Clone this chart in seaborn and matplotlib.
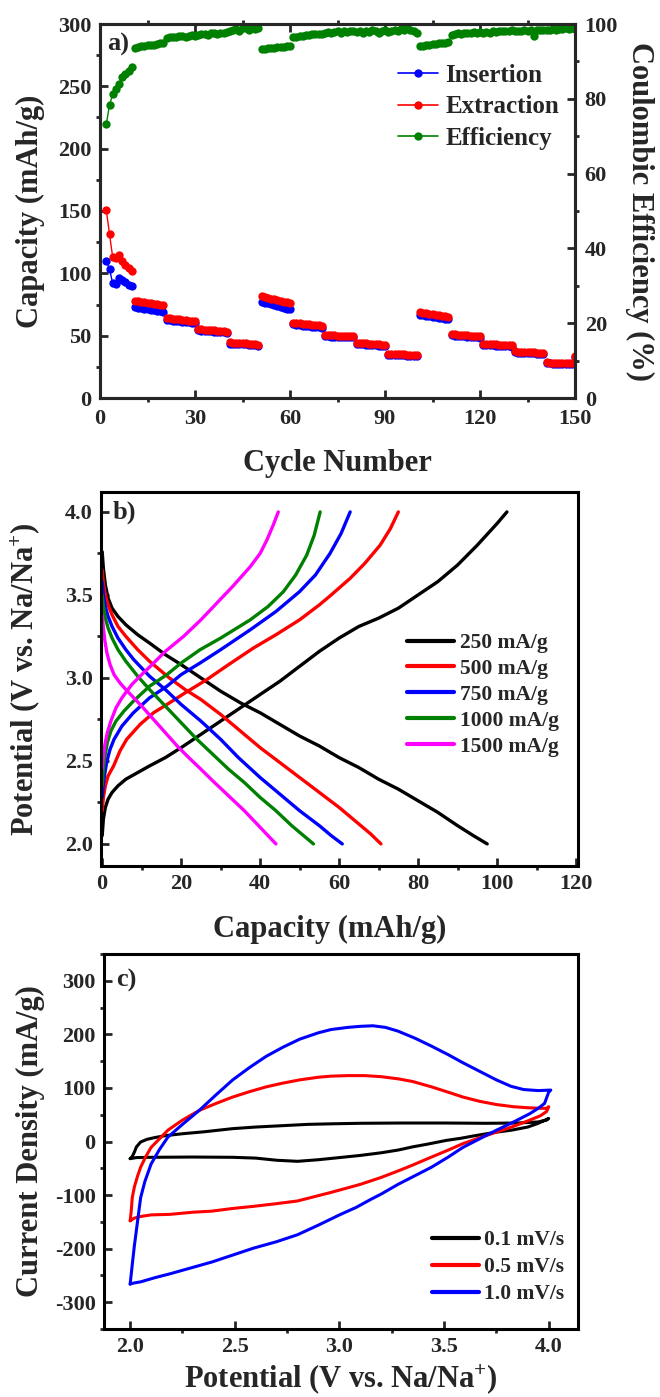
import numpy as np
import pandas as pd
import matplotlib
matplotlib.use("Agg")
import matplotlib.pyplot as plt
from matplotlib.lines import Line2D
from matplotlib.ticker import MultipleLocator, FormatStrFormatter
import seaborn as sns

# ---------------- (a) rate capability / cycling ----------------
cycles = np.arange(2, 151)
# first cycle of each current-density step
step_starts = [2, 11, 21, 31, 41, 51, 61, 71, 81, 91, 101, 111, 121, 131, 141, 150]

insertion = [
    110.0, 103.5, 92.0, 91.5, 96.5, 95.0, 93.0, 91.0, 89.5,
    72.8, 72.4, 72.0, 71.7, 71.3, 70.9, 70.5, 70.1, 69.7, 69.3,
    62.6, 62.3, 62.0, 61.8, 61.5, 61.2, 60.9, 60.6, 60.3, 60.0,
    54.2, 54.0, 53.8, 53.6, 53.4, 53.2, 53.0, 52.8, 52.6, 52.3,
    43.7, 43.6, 43.5, 43.3, 43.2, 43.0, 42.9, 42.7, 42.5, 42.1,
    77.3, 76.6, 75.9, 75.2, 74.5, 73.8, 73.1, 72.4, 71.7, 71.0,
    59.0, 58.7, 58.4, 58.1, 57.9, 57.6, 57.3, 57.0, 56.7, 56.4,
    49.6, 49.5, 49.3, 49.2, 49.1, 48.9, 48.8, 48.7, 48.6, 48.8,
    43.5, 43.3, 43.1, 42.9, 42.7, 42.5, 42.3, 42.1, 41.9, 41.7,
    34.6, 34.5, 34.4, 34.3, 34.2, 34.1, 33.9, 33.8, 33.7, 33.5,
    66.8, 66.4, 66.0, 65.6, 65.2, 64.8, 64.4, 64.0, 63.6, 63.2,
    50.2, 50.0, 49.8, 49.6, 49.4, 49.2, 49.0, 48.8, 48.6, 48.4,
    42.6, 42.5, 42.3, 42.2, 42.1, 41.9, 41.8, 41.6, 41.5, 41.3,
    36.5, 36.3, 36.2, 36.1, 36.0, 35.8, 35.7, 35.5, 35.3, 35.1,
    27.8, 27.7, 27.6, 27.5, 27.5, 27.4, 27.3, 27.2, 27.2,
    32.5,
]
extraction = [
    150.5, 131.5, 113.0, 112.0, 114.5, 110.0, 107.0, 104.0, 101.5,
    78.0, 77.6, 77.2, 76.9, 76.5, 76.1, 75.7, 75.2, 74.8, 74.3,
    64.2, 63.8, 63.5, 63.3, 63.0, 62.7, 62.4, 62.1, 61.8, 61.5,
    55.2, 55.0, 54.8, 54.6, 54.4, 54.2, 54.0, 53.8, 53.6, 53.3,
    44.6, 44.4, 44.3, 44.1, 44.0, 43.8, 43.6, 43.5, 43.2, 42.8,
    81.5, 80.9, 80.3, 79.7, 79.1, 78.5, 77.9, 77.3, 76.7, 76.0,
    60.5, 60.2, 59.9, 59.6, 59.4, 59.1, 58.8, 58.5, 58.2, 57.9,
    50.6, 50.5, 50.3, 50.2, 50.1, 49.9, 49.8, 49.7, 49.6, 49.8,
    44.5, 44.3, 44.1, 43.9, 43.7, 43.5, 43.3, 43.1, 42.9, 42.7,
    35.4, 35.3, 35.2, 35.1, 35.0, 34.9, 34.7, 34.6, 34.5, 34.3,
    68.6, 68.2, 67.8, 67.4, 67.0, 66.6, 66.2, 65.8, 65.4, 65.0,
    51.2, 51.0, 50.8, 50.6, 50.4, 50.2, 50.0, 49.8, 49.6, 49.4,
    43.5, 43.4, 43.2, 43.1, 43.0, 42.8, 42.7, 42.5, 42.4, 42.2,
    37.3, 37.1, 37.0, 36.9, 36.8, 36.6, 36.5, 36.3, 36.1, 35.9,
    28.5, 28.4, 28.3, 28.2, 28.2, 28.1, 28.0, 27.9, 27.9,
    33.5,
]
efficiency = [
    73.3, 78.3, 81.2, 82.7, 84.0, 85.7, 86.6, 87.5, 88.6,
    93.5, 93.8, 94.0, 94.1, 94.3, 94.4, 94.5, 94.7, 94.8, 95.0,
    96.3, 96.5, 96.6, 96.4, 96.7, 96.8, 96.6, 96.9, 97.0, 96.8,
    97.0, 97.2, 97.4, 97.1, 97.5, 97.6, 97.3, 97.7, 97.5, 97.8,
    98.0, 98.3, 98.6, 98.2, 98.8, 99.0, 98.5, 99.2, 98.7, 99.0,
    93.2, 93.4, 93.5, 93.6, 93.7, 93.8, 93.8, 93.9, 94.0, 94.1,
    96.5, 96.6, 96.8, 96.9, 97.0, 97.1, 97.2, 97.3, 97.2, 97.4,
    97.6, 97.8, 97.5, 97.9, 98.0, 97.7, 98.1, 97.9, 98.2, 98.0,
    97.8, 98.0, 97.6, 98.2, 97.9, 98.3, 98.0, 97.7, 98.1, 98.3,
    97.8, 98.2, 98.5, 98.0, 98.6, 98.3, 98.8, 98.4, 98.0, 97.5,
    94.0, 94.2, 94.3, 94.5, 94.6, 94.7, 94.8, 94.9, 95.0, 95.1,
    97.0, 97.3, 97.5, 97.4, 97.6, 97.7, 97.5, 97.8, 97.7, 97.9,
    97.6, 97.8, 97.7, 98.0, 97.9, 98.1, 98.0, 98.2, 98.1, 98.3,
    98.0, 98.2, 98.1, 98.3, 98.2, 98.4, 96.8, 98.3, 98.5, 98.4,
    98.4, 98.5, 98.6, 98.5, 98.7, 98.6, 98.8, 98.7, 98.8,
    98.6,
]

# ---------------- (b) charge / discharge profiles ----------------
rate_labels = ["250 mA/g", "500 mA/g", "750 mA/g", "1000 mA/g", "1500 mA/g"]

cap_250_dis = [0, 0.3, 0.8, 1.5, 2.5, 4, 6, 9, 12, 16, 20, 25, 30, 35, 40, 45, 50, 55, 60, 65, 70, 75, 80, 85, 90, 94, 97.5]
pot_250_dis = [3.76, 3.66, 3.56, 3.48, 3.42, 3.37, 3.32, 3.26, 3.21, 3.14, 3.08, 3.0, 2.92, 2.85, 2.79, 2.72, 2.65, 2.59, 2.52, 2.46, 2.39, 2.33, 2.26, 2.19, 2.11, 2.05, 2.0]
cap_250_chg = [0, 0.3, 0.8, 1.5, 2.5, 4, 6, 9, 12, 16, 20, 25, 30, 35, 40, 45, 50, 55, 60, 65, 70, 75, 80, 85, 90, 95, 100, 102.5]
pot_250_chg = [2.05, 2.15, 2.22, 2.27, 2.31, 2.35, 2.39, 2.43, 2.47, 2.52, 2.58, 2.66, 2.74, 2.82, 2.9, 2.98, 3.07, 3.16, 3.24, 3.31, 3.36, 3.42, 3.5, 3.58, 3.68, 3.8, 3.93, 4.0]

cap_500_dis = [0, 0.3, 0.8, 1.5, 2.5, 4, 6, 9, 12, 17, 21, 25, 30, 35, 40, 45, 50, 55, 60, 65, 68, 70.6]
pot_500_dis = [3.65, 3.57, 3.5, 3.44, 3.38, 3.31, 3.25, 3.17, 3.1, 3.0, 2.93, 2.87, 2.78, 2.68, 2.58, 2.49, 2.4, 2.31, 2.22, 2.12, 2.06, 2.0]
cap_500_chg = [0, 0.3, 0.8, 1.5, 2.9, 4.5, 6.2, 9.6, 13, 16.4, 21, 26.5, 32, 38.3, 44, 50, 55, 58, 62.8, 66.5, 70.4, 73, 75]
pot_500_chg = [2.2, 2.28, 2.35, 2.41, 2.47, 2.56, 2.63, 2.72, 2.79, 2.84, 2.91, 2.99, 3.08, 3.18, 3.26, 3.35, 3.44, 3.5, 3.6, 3.69, 3.8, 3.9, 4.0]

cap_750_dis = [0, 0.3, 0.8, 1.5, 2.5, 4, 6, 8, 12, 16, 20, 25, 30, 34.5, 40, 45, 50, 55, 58, 60.8]
pot_750_dis = [3.58, 3.5, 3.43, 3.37, 3.31, 3.24, 3.17, 3.11, 3.01, 2.93, 2.84, 2.74, 2.63, 2.52, 2.4, 2.3, 2.2, 2.11, 2.05, 2.0]
cap_750_chg = [0, 0.3, 0.7, 1.2, 2, 3, 5, 7.9, 12, 16.4, 20, 24.8, 30, 37.5, 44, 50, 54, 57.7, 60.5, 62.8]
pot_750_chg = [2.28, 2.36, 2.43, 2.5, 2.57, 2.63, 2.71, 2.79, 2.88, 2.95, 3.02, 3.09, 3.17, 3.29, 3.4, 3.52, 3.62, 3.75, 3.87, 4.0]

cap_1000_dis = [0, 0.3, 0.8, 1.5, 2.5, 4, 6, 9, 12, 16, 20, 24, 28, 32, 36, 40, 44, 48, 51, 53.5]
pot_1000_dis = [3.5, 3.43, 3.36, 3.3, 3.24, 3.17, 3.1, 3.01, 2.93, 2.83, 2.73, 2.63, 2.54, 2.45, 2.37, 2.28, 2.2, 2.11, 2.05, 2.0]
cap_1000_chg = [0, 0.3, 0.7, 1.3, 2.2, 3.5, 5.5, 7.9, 12, 16.4, 20, 24.8, 30, 37.5, 42, 45.9, 49, 51.8, 53.7, 55.2]
pot_1000_chg = [2.35, 2.45, 2.53, 2.61, 2.68, 2.74, 2.8, 2.86, 2.95, 3.02, 3.09, 3.17, 3.24, 3.35, 3.43, 3.52, 3.62, 3.74, 3.86, 4.0]

cap_1500_dis = [0, 0.3, 0.7, 1.2, 2, 3, 4.5, 6, 8, 10, 13, 16, 19, 21.5, 25, 28, 32, 36, 40, 44]
pot_1500_dis = [3.38, 3.3, 3.22, 3.15, 3.08, 3.02, 2.97, 2.93, 2.88, 2.83, 2.75, 2.67, 2.59, 2.53, 2.45, 2.38, 2.29, 2.2, 2.1, 2.0]
cap_1500_chg = [0, 0.3, 0.7, 1.3, 2.2, 3.5, 5, 7.5, 10, 12.2, 16, 20.6, 25, 29, 33, 37.5, 40, 41.7, 43.3, 44.6]
pot_1500_chg = [2.45, 2.53, 2.6, 2.67, 2.74, 2.82, 2.88, 2.96, 3.02, 3.07, 3.16, 3.25, 3.35, 3.45, 3.55, 3.67, 3.75, 3.83, 3.92, 4.0]

# ---------------- (c) cyclic voltammetry ----------------
scan_labels = ["0.1 mV/s", "0.5 mV/s", "1.0 mV/s"]

cv_01_v = [2.0, 2.01, 2.02, 2.03, 2.05, 2.08, 2.12, 2.17, 2.25, 2.35, 2.49, 2.6, 2.7, 2.85, 2.96, 3.1, 3.3, 3.5, 3.7, 3.85, 3.95, 3.99, 4.0,
           3.95, 3.9, 3.82, 3.75, 3.65, 3.58, 3.51, 3.42, 3.35, 3.28, 3.2, 3.1, 3.0, 2.9, 2.8, 2.7, 2.6, 2.49, 2.3, 2.1, 2.03, 2.0]
cv_01_i = [-32, -28, -20, -10, -1, 4, 7.5, 11, 14.5, 18, 24, 27, 29, 32, 33, 34, 34.5, 34.5, 34, 34.5, 36.5, 40, 43,
           34, 27, 21, 17.5, 11, 6, 2, -5, -10, -16, -21, -26, -30, -34, -37, -35, -31, -29.5, -29, -29.5, -30, -32]

cv_05_v = [2.0, 2.005, 2.01, 2.02, 2.035, 2.05, 2.075, 2.1, 2.14, 2.18, 2.25, 2.33, 2.41, 2.49, 2.57, 2.65, 2.73, 2.81, 2.9, 2.96,
           3.04, 3.12, 3.2, 3.28, 3.35, 3.44, 3.52, 3.59, 3.67, 3.75, 3.83, 3.9, 3.96, 3.99, 4.0,
           3.99, 3.96, 3.91, 3.83, 3.75, 3.67, 3.59, 3.52, 3.44, 3.35, 3.28, 3.2, 3.1, 2.96, 2.8, 2.7, 2.59, 2.49, 2.39, 2.3,
           2.19, 2.1, 2.05, 2.02, 2.0]
cv_05_i = [-148, -130, -105, -85, -65, -48, -28, -11, 5, 21, 40, 58, 71, 83, 93, 102, 109, 115, 120, 122,
           123, 123, 121, 117, 112, 102, 92, 83, 75, 69, 65, 63, 62, 62, 65,
           56, 48, 40, 28, 17.5, 7, -4, -16, -29, -44, -55, -67, -80, -95, -111, -116, -121, -125, -130, -132,
           -136, -137, -140, -143, -148]

cv_10_v = [2.0, 2.01, 2.02, 2.03, 2.04, 2.05, 2.07, 2.1, 2.14, 2.18, 2.25, 2.33, 2.41, 2.49, 2.57, 2.65, 2.73, 2.81, 2.9, 2.96,
           3.04, 3.1, 3.16, 3.22, 3.28, 3.36, 3.44, 3.52, 3.59, 3.67, 3.75, 3.82, 3.88, 3.95, 4.01, 4.0,
           3.98, 3.95, 3.91, 3.83, 3.75, 3.67, 3.59, 3.52, 3.44, 3.36, 3.28, 3.2, 3.15, 3.08, 3.0, 2.9, 2.8, 2.7, 2.59,
           2.49, 2.39, 2.29, 2.19, 2.12, 2.05, 2.02, 2.0]
cv_10_i = [-266, -230, -195, -165, -135, -105, -75, -42, -15, 8, 32, 58, 87, 115, 138, 159, 176, 191, 203, 209,
           213, 215, 216, 213, 206, 193, 178, 162, 147, 131, 115, 103, 97, 95, 96, 92,
           71, 62, 52, 36, 21, 5, -11, -29, -48, -64, -80, -98, -108, -123, -137, -156, -174, -187, -199,
           -212, -225, -236, -247, -254, -262, -264, -266]

# ---------------- style ----------------
sns.set_style("ticks")
plt.rcParams.update({
    "font.family": ["Liberation Serif", "DejaVu Serif"],
    "font.weight": "bold",
    "axes.labelweight": "bold",
    "axes.unicode_minus": False,
    "mathtext.fontset": "custom",
    "mathtext.rm": "Liberation Serif:bold",
    "mathtext.it": "Liberation Serif:bold",
    "mathtext.bf": "Liberation Serif:bold",
    "mathtext.default": "rm",
    "axes.linewidth": 2.2,
})

W, H = 660, 1397
fig = plt.figure(figsize=(W / 100, H / 100), dpi=100)


def px_axes(left, top, right, bottom):
    return fig.add_axes([left / W, 1 - bottom / H, (right - left) / W, (bottom - top) / H])


def style_ticks(ax, top=False):
    ax.tick_params(which="major", direction="in", length=6, width=2.0, labelsize=16, pad=6,
                   top=top, right=False)
    ax.tick_params(which="minor", direction="out", length=3, width=2.0, top=top, right=False)
    for s in ax.spines.values():
        s.set_linewidth(2.2)
        s.set_color("black")


def place_labels(ax, xlabel, ylabel, xcen, ycen_x, fs=22):
    ax.set_xlabel(xlabel, fontsize=fs, fontweight="bold")
    ax.set_ylabel(ylabel, fontsize=fs, fontweight="bold")
    ax.xaxis.set_label_coords(*xcen)
    ax.yaxis.set_label_coords(*ycen_x)
    ax.xaxis.label.set_va("center")
    ax.yaxis.label.set_va("center")


MS = 6.0

# ---------------- panel (a) ----------------
ax_a = px_axes(100, 24, 575, 398)
step = np.searchsorted(step_starts, cycles, side="right")
n = len(cycles)
cap_df = pd.DataFrame({
    "cycle": np.concatenate([cycles, cycles]),
    "capacity": insertion + extraction,
    "series": ["Insertion"] * n + ["Extraction"] * n,
    "step": np.concatenate([step, step]),
})
sns.lineplot(data=cap_df, x="cycle", y="capacity", hue="series", units="step", estimator=None,
             palette={"Insertion": "#0000ff", "Extraction": "#ff0000"},
             hue_order=["Insertion", "Extraction"], sort=False,
             marker="o", markersize=MS, markeredgewidth=0, linewidth=1.0, legend=False, ax=ax_a)
ax_a.set_xlim(0, 150)
ax_a.set_ylim(0, 300)
ax_a.xaxis.set_major_locator(MultipleLocator(30))
ax_a.xaxis.set_minor_locator(MultipleLocator(15))
ax_a.yaxis.set_major_locator(MultipleLocator(50))
ax_a.yaxis.set_minor_locator(MultipleLocator(25))
style_ticks(ax_a, top=True)
ax_a.tick_params(axis="x", which="major", pad=8)
place_labels(ax_a, "Cycle Number", "Capacity (mAh/g)", (0.5, -0.174), (-0.147, 0.5))

ax_a2 = ax_a.twinx()
eff_df = pd.DataFrame({"cycle": cycles, "efficiency": efficiency, "step": step})
sns.lineplot(data=eff_df, x="cycle", y="efficiency", units="step", estimator=None, sort=False,
             color="#008000", marker="o", markersize=MS, markeredgewidth=0, linewidth=1.0,
             legend=False, ax=ax_a2)
ax_a2.set_ylim(0, 100)
ax_a2.yaxis.set_major_locator(MultipleLocator(20))
ax_a2.yaxis.set_minor_locator(MultipleLocator(10))
ax_a2.tick_params(which="major", direction="in", length=6, width=2.0, labelsize=16, pad=7,
                  left=False, right=True, labelleft=False, labelright=True)
ax_a2.tick_params(which="minor", direction="out", length=3, width=2.0, left=False, right=True)
for s in ax_a2.spines.values():
    s.set_linewidth(2.2)
ax_a2.set_ylabel("Coulombic Efficiency (%)", fontsize=22, fontweight="bold", rotation=270)
ax_a2.yaxis.set_label_coords(1.135, 0.5)
ax_a2.yaxis.label.set_va("center")
ax_a2.set_xlabel("")

handles_a = [Line2D([], [], color=c, marker="o", markersize=MS, markeredgewidth=0, linewidth=1.2)
             for c in ["#0000ff", "#ff0000", "#008000"]]
ax_a2.legend(handles_a, ["Insertion", "Extraction", "Efficiency"], loc="upper left",
             bbox_to_anchor=(398 / W, 1 - 64 / H), bbox_transform=fig.transFigure,
             frameon=False, fontsize=18, handlelength=1.6, handletextpad=0.3,
             labelspacing=0.33, borderpad=0, borderaxespad=0)
ax_a.text(0.015, 0.945, "a)", transform=ax_a.transAxes, fontsize=19, fontweight="bold",
          ha="left", va="center")

# ---------------- panel (b) ----------------
ax_b = px_axes(101, 492, 578, 866)
gcd_caps = [(cap_250_dis, cap_250_chg), (cap_500_dis, cap_500_chg), (cap_750_dis, cap_750_chg),
            (cap_1000_dis, cap_1000_chg), (cap_1500_dis, cap_1500_chg)]
gcd_pots = [(pot_250_dis, pot_250_chg), (pot_500_dis, pot_500_chg), (pot_750_dis, pot_750_chg),
            (pot_1000_dis, pot_1000_chg), (pot_1500_dis, pot_1500_chg)]
rows = []
for lab, caps, pots in zip(rate_labels, gcd_caps, gcd_pots):
    for branch, c, p in zip(["discharge", "charge"], caps, pots):
        for ci, pi in zip(c, p):
            rows.append((lab, branch, ci, pi))
gcd_df = pd.DataFrame(rows, columns=["rate", "branch", "capacity", "potential"])
rate_colors = ["#000000", "#ff0000", "#0000ff", "#008000", "#ff00ff"]
sns.lineplot(data=gcd_df, x="capacity", y="potential", hue="rate", units="branch",
             estimator=None, sort=False, hue_order=rate_labels, palette=rate_colors,
             linewidth=2.4, legend=False, ax=ax_b)
ax_b.set_xlim(-0.3, 120.5)
ax_b.set_ylim(1.867, 4.12)
ax_b.xaxis.set_major_locator(MultipleLocator(20))
ax_b.xaxis.set_minor_locator(MultipleLocator(10))
ax_b.yaxis.set_major_locator(MultipleLocator(0.5))
ax_b.yaxis.set_minor_locator(MultipleLocator(0.25))
ax_b.yaxis.set_major_formatter(FormatStrFormatter("%.1f"))
style_ticks(ax_b)
place_labels(ax_b, "Capacity (mAh/g)", r"Potential (V vs. Na/Na$^{+}$)", (0.48, -0.17), (-0.16, 0.5))
handles_b = [Line2D([], [], color=c, linewidth=3.0) for c in rate_colors]
ax_b.legend(handles_b, rate_labels, loc="upper left", bbox_to_anchor=(407 / W, 1 - 633 / H),
            bbox_transform=fig.transFigure, frameon=False, fontsize=15.5, handlelength=2.2,
            handletextpad=0.25, labelspacing=0.27, borderpad=0, borderaxespad=0)
ax_b.text(0.025, 0.945, "b)", transform=ax_b.transAxes, fontsize=19, fontweight="bold",
          ha="left", va="center")

# ---------------- panel (c) ----------------
ax_c = px_axes(104, 954, 578, 1329)
cv_rows = []
for lab, v, i in zip(scan_labels, [cv_01_v, cv_05_v, cv_10_v], [cv_01_i, cv_05_i, cv_10_i]):
    for k, (vi, ii) in enumerate(zip(v, i)):
        cv_rows.append((lab, k, vi, ii))
cv_df = pd.DataFrame(cv_rows, columns=["scan", "order", "potential", "current"])
scan_colors = ["#000000", "#ff0000", "#0000ff"]
sns.lineplot(data=cv_df, x="potential", y="current", hue="scan", estimator=None, sort=False,
             hue_order=scan_labels, palette=scan_colors, linewidth=2.2, legend=False, ax=ax_c)
ax_c.set_xlim(1.875, 4.14)
ax_c.set_ylim(-350, 350)
ax_c.xaxis.set_major_locator(MultipleLocator(0.5))
ax_c.xaxis.set_minor_locator(MultipleLocator(0.25))
ax_c.xaxis.set_major_formatter(FormatStrFormatter("%.1f"))
ax_c.yaxis.set_major_locator(MultipleLocator(100))
ax_c.yaxis.set_minor_locator(MultipleLocator(50))
style_ticks(ax_c)
place_labels(ax_c, r"Potential (V vs. Na/Na$^{+}$)", "Current Density (mA/g)", (0.5, -0.135), (-0.155, 0.5))
handles_c = [Line2D([], [], color=c, linewidth=3.0) for c in scan_colors]
ax_c.legend(handles_c, scan_labels, loc="upper left", bbox_to_anchor=(432 / W, 1 - 1230 / H),
            bbox_transform=fig.transFigure, frameon=False, fontsize=15.5, handlelength=2.2,
            handletextpad=0.2, labelspacing=0.33, borderpad=0, borderaxespad=0)
ax_c.text(0.025, 0.93, "c)", transform=ax_c.transAxes, fontsize=19, fontweight="bold",
          ha="left", va="center")

fig.savefig("out.png", dpi=100)
